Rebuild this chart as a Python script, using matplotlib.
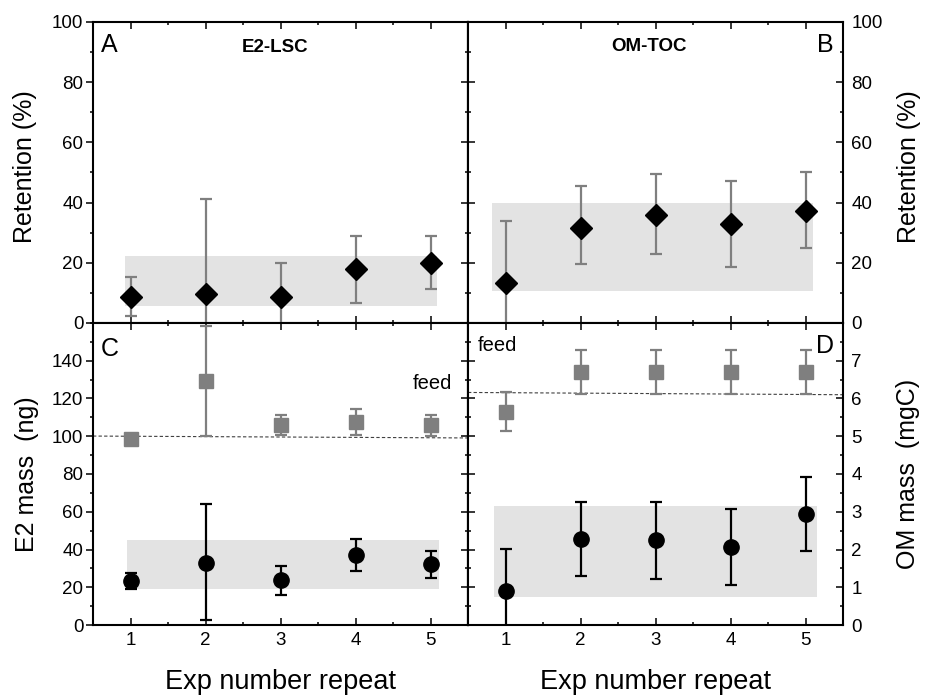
import matplotlib.pyplot as plt
from matplotlib.ticker import MultipleLocator

plt.rcParams['font.family'] = ['Liberation Sans', 'DejaVu Sans']

# experiment numbers
exp = [1, 2, 3, 4, 5]

# A: E2-LSC retention (%), value and error bar ends
ret_e2 = [8.8, 9.6, 8.5, 17.8, 20.0]
ret_e2_hi = [15.4, 41.1, 20.0, 28.9, 28.9]
ret_e2_lo = [2.3, -22.0, -3.0, 6.7, 11.2]
band_e2 = (0.92, 5.09, 5.6, 22.4)

# B: OM-TOC retention (%)
ret_om = [13.4, 31.4, 35.9, 32.8, 37.3]
ret_om_hi = [33.8, 45.6, 49.4, 47.3, 50.2]
ret_om_lo = [-7.0, 19.5, 22.8, 18.6, 24.8]
band_om = (0.82, 5.10, 10.6, 40.0)

# C: E2 mass (ng) - feed (squares) and retained (circles)
e2_feed = [98.6, 129.2, 105.7, 107.8, 105.8]
e2_feed_hi = [99.5, 158.4, 111.2, 114.7, 111.5]
e2_feed_lo = [97.7, 100.0, 100.4, 100.5, 100.3]
e2_mass = [23.4, 33.1, 24.1, 37.2, 32.2]
e2_mass_hi = [27.8, 64.1, 31.5, 45.7, 39.3]
e2_mass_lo = [19.0, 2.7, 15.9, 28.8, 24.8]
e2_feed_line = ([0.5, 5.5], [100.1, 99.1])
band_e2_mass = (0.95, 5.11, 19.3, 44.8)

# D: OM mass (mgC)
om_feed = [5.64, 6.70, 6.70, 6.70, 6.70]
om_feed_hi = [6.17, 7.28, 7.28, 7.28, 7.28]
om_feed_lo = [5.15, 6.13, 6.13, 6.13, 6.13]
om_mass = [0.91, 2.29, 2.24, 2.06, 2.94]
om_mass_hi = [2.02, 3.27, 3.25, 3.07, 3.93]
om_mass_lo = [-0.2, 1.30, 1.22, 1.06, 1.96]
om_feed_line = ([0.5, 5.5], [6.16, 6.10])
band_om_mass = (0.84, 5.15, 0.75, 3.16)

GREY = '#7f7f7f'
SHADE = '#e3e3e3'
TICKSIZE = 13.5


def errs(y, lo, hi):
    return [[v - l for v, l in zip(y, lo)], [h - v for v, h in zip(y, hi)]]


def shade(ax, band):
    x0, x1, y0, y1 = band
    ax.fill_between([x0, x1], [y0, y0], [y1, y1], color=SHADE, lw=0, zorder=0)


def points(ax, y, lo, hi, marker, color, ecolor, ms):
    ax.errorbar(exp, y, yerr=errs(y, lo, hi), fmt=marker, color=color,
                ecolor=ecolor, ms=ms, mec=color, elinewidth=1.6,
                capsize=4, capthick=1.6, zorder=3)


def style(ax, side, bottom, major, minor, ymax, ytop=None):
    ax.set_xlim(0.5, 5.5)
    ax.set_ylim(0, ymax)
    ax.xaxis.set_major_locator(MultipleLocator(1))
    ax.xaxis.set_minor_locator(MultipleLocator(0.5))
    if ytop is None:
        ax.yaxis.set_major_locator(MultipleLocator(major))
    else:
        ax.set_yticks([i * major for i in range(int(ytop / major) + 1)])
    ax.yaxis.set_minor_locator(MultipleLocator(minor))
    for s in ax.spines.values():
        s.set_linewidth(1.5)
    ax.tick_params(axis='x', which='both', direction='in', top=True,
                   bottom=True, labelbottom=bottom, labelsize=TICKSIZE, pad=5)
    ax.tick_params(which='major', length=5, width=1.1)
    ax.tick_params(which='minor', length=2.5, width=1.1)
    if side == 'left':
        ax.tick_params(axis='y', which='both', direction='out', left=True,
                       right=False, labelleft=True, labelsize=TICKSIZE, pad=2)
        sec = ax.secondary_yaxis('right')
        sec.yaxis.set_major_locator(MultipleLocator(major))
        sec.yaxis.set_minor_locator(MultipleLocator(minor))
        sec.tick_params(which='both', direction='in', labelright=False, width=1.1)
        sec.tick_params(which='major', length=5)
        sec.tick_params(which='minor', length=2.5)
        sec.spines['right'].set_linewidth(1.5)
    else:
        ax.tick_params(axis='y', which='both', direction='in', left=True,
                       right=True, labelleft=False, labelright=True,
                       labelsize=TICKSIZE, pad=6)
        ax.yaxis.set_label_position('right')


fig = plt.figure(figsize=(9.25, 6.95), dpi=100)
L, W = 93 / 925, 375 / 925
axA = fig.add_axes([L, 372 / 695, W, 301 / 695])
axB = fig.add_axes([L + W, 372 / 695, W, 301 / 695])
axC = fig.add_axes([L, 70 / 695, W, 302 / 695])
axD = fig.add_axes([L + W, 70 / 695, W, 302 / 695])

# A
shade(axA, band_e2)
points(axA, ret_e2, ret_e2_lo, ret_e2_hi, 'D', 'black', GREY, 11)
style(axA, 'left', False, 20, 10, 100)
axA.set_ylabel('Retention (%)', fontsize=18)
axA.yaxis.set_label_coords(-0.15, 0.52)
axA.text(0.02, 0.965, 'A', transform=axA.transAxes, fontsize=18, ha='left', va='top')
axA.text(0.485, 0.914, 'E2-LSC', transform=axA.transAxes, fontsize=13.5,
         fontweight='bold', ha='center', va='center')

# B
shade(axB, band_om)
points(axB, ret_om, ret_om_lo, ret_om_hi, 'D', 'black', GREY, 11)
style(axB, 'right', False, 20, 10, 100)
axB.set_ylabel('Retention (%)', fontsize=18)
axB.yaxis.set_label_coords(1.145, 0.52)
axB.text(0.975, 0.965, 'B', transform=axB.transAxes, fontsize=18, ha='right', va='top')
axB.text(0.483, 0.918, 'OM-TOC', transform=axB.transAxes, fontsize=13.5,
         fontweight='bold', ha='center', va='center')

# C
shade(axC, band_e2_mass)
axC.plot(*e2_feed_line, ls=(0, (3, 2)), color='#404040', lw=0.8, zorder=1)
points(axC, e2_feed, e2_feed_lo, e2_feed_hi, 's', GREY, GREY, 9.5)
points(axC, e2_mass, e2_mass_lo, e2_mass_hi, 'o', 'black', 'black', 11)
style(axC, 'left', True, 20, 10, 160, ytop=140)
axC.set_ylabel('E2 mass  (ng)', fontsize=18)
axC.yaxis.set_label_coords(-0.143, 0.5)
axC.set_xlabel('Exp number repeat', fontsize=19.5)
axC.xaxis.set_label_coords(0.5, -0.146)
axC.text(0.02, 0.955, 'C', transform=axC.transAxes, fontsize=18, ha='left', va='top')
axC.text(0.957, 0.80, 'feed', transform=axC.transAxes, fontsize=14.5, ha='right', va='center')

# D
shade(axD, band_om_mass)
axD.plot(*om_feed_line, ls=(0, (3, 2)), color='#404040', lw=0.8, zorder=1)
points(axD, om_feed, om_feed_lo, om_feed_hi, 's', GREY, GREY, 9.5)
points(axD, om_mass, om_mass_lo, om_mass_hi, 'o', 'black', 'black', 11)
style(axD, 'right', True, 1, 0.5, 8, ytop=7)
axD.set_ylabel('OM mass  (mgC)', fontsize=18)
axD.yaxis.set_label_coords(1.14, 0.5)
axD.set_xlabel('Exp number repeat', fontsize=19.5)
axD.xaxis.set_label_coords(0.5, -0.146)
axD.text(0.975, 0.965, 'D', transform=axD.transAxes, fontsize=18, ha='right', va='top')
axD.text(0.027, 0.924, 'feed', transform=axD.transAxes, fontsize=14.5, ha='left', va='center')

fig.savefig('out.png', dpi=100)
